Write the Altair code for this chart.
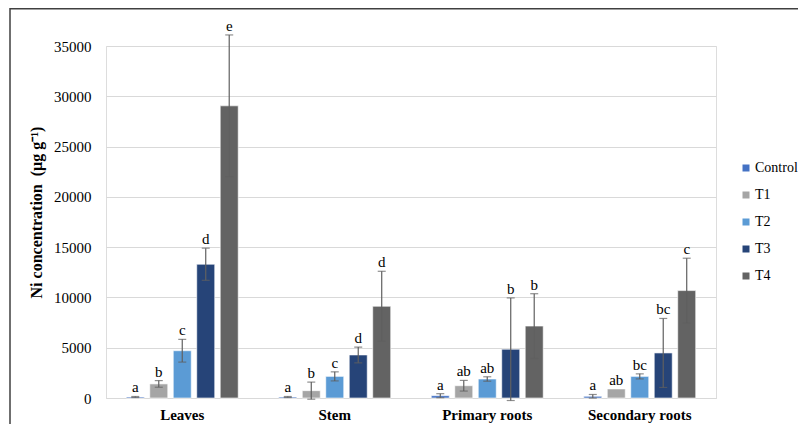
import altair as alt
import pandas as pd

organs = ["Leaves", "Stem", "Primary roots", "Secondary roots"]
treatments = ["Control", "T1", "T2", "T3", "T4"]
colors = ["#4472C4", "#A5A5A5", "#5B9BD5", "#264478", "#636363"]

means = {
    "Leaves": [100, 1400, 4700, 13300, 29050],
    "Stem": [100, 730, 2150, 4280, 9120],
    "Primary roots": [230, 1220, 1890, 4850, 7150],
    "Secondary roots": [170, 900, 2150, 4480, 10680],
}
errors = {
    "Leaves": [50, 330, 1130, 1600, 7050],
    "Stem": [50, 850, 450, 780, 3480],
    "Primary roots": [200, 530, 220, 5100, 3220],
    "Secondary roots": [180, 0, 250, 3430, 3220],
}
letters = {
    "Leaves": ["a", "b", "c", "d", "e"],
    "Stem": ["a", "b", "c", "d", "d"],
    "Primary roots": ["a", "ab", "ab", "b", "b"],
    "Secondary roots": ["a", "ab", "bc", "bc", "c"],
}
y_ticks = [0, 5000, 10000, 15000, 20000, 25000, 30000, 35000]

rows = []
for o in organs:
    for i, t in enumerate(treatments):
        m = means[o][i]
        e = errors[o][i]
        rows.append({"organ": o, "treat": t, "mean": m, "err": e,
                     "lo": m - e, "hi": m + e, "letter": letters[o][i]})
df = pd.DataFrame(rows)

FONT = "Liberation Serif"

x_enc = alt.X("organ:N", sort=organs, title=None,
              scale=alt.Scale(paddingInner=0.23, paddingOuter=0.115),
              axis=alt.Axis(labelAngle=0, labelFont=FONT, labelFontSize=15,
                            labelFontWeight="bold", labelColor="#000000",
                            labelPadding=9, ticks=False, domainColor="#d9d9d9",
                            domainWidth=1.2))
xoff = alt.XOffset("treat:N", sort=treatments,
                   scale=alt.Scale(paddingInner=0.234, paddingOuter=0.117))
y_scale = alt.Scale(domain=[0, 35000], nice=False)

base = alt.Chart(df)

bars = base.mark_bar(stroke="white", strokeWidth=0.6).encode(
    x=x_enc,
    xOffset=xoff,
    y=alt.Y("mean:Q", scale=y_scale,
            title="Ni concentration \u00a0(µg g⁻¹)",
            axis=alt.Axis(values=y_ticks, format="d", labelFont=FONT,
                          labelFontSize=15, labelColor="#000000",
                          labelPadding=15, ticks=False, domain=False,
                          gridColor="#d9d9d9", gridWidth=1.2,
                          titleFont=FONT, titleFontSize=16,
                          titleFontWeight="bold", titleColor="#000000",
                          titleX=-70, titleY=166, titleBaseline="middle")),
    color=alt.Color("treat:N", sort=treatments,
                    scale=alt.Scale(domain=treatments, range=colors),
                    legend=alt.Legend(title=None, orient="none", legendX=633,
                                      legendY=115, symbolType="square",
                                      symbolSize=49, symbolStrokeWidth=0,
                                      labelFont=FONT, labelFontSize=14,
                                      labelColor="#000000", labelOffset=2,
                                      rowPadding=13)),
)

ebase = base.transform_filter("datum.err > 0")

rule = ebase.mark_rule(color="#606060", strokeWidth=1.2).encode(
    x=alt.X("organ:N", sort=organs), xOffset=xoff,
    y=alt.Y("lo:Q", scale=y_scale), y2="hi:Q")

cap_hi = ebase.mark_tick(color="#606060", thickness=1.2, size=8).encode(
    x=alt.X("organ:N", sort=organs), xOffset=xoff,
    y=alt.Y("hi:Q", scale=y_scale))
cap_lo = ebase.mark_tick(color="#606060", thickness=1.2, size=8).encode(
    x=alt.X("organ:N", sort=organs), xOffset=xoff,
    y=alt.Y("lo:Q", scale=y_scale))

labels = base.mark_text(font=FONT, fontSize=15, color="#000000",
                        baseline="alphabetic", dy=-4).encode(
    x=alt.X("organ:N", sort=organs), xOffset=xoff,
    y=alt.Y("hi:Q", scale=y_scale), text="letter:N")

frame = alt.Chart(pd.DataFrame({"k": [0]})).mark_rect(
    fill=None, stroke="#404040", strokeWidth=1.5).encode(
    x=alt.value(-96), x2=alt.value(720), y=alt.value(-37.2), y2=alt.value(420))

chart = alt.layer(bars, rule, cap_hi, cap_lo, labels, frame).properties(
    width=610, height=352,
    autosize=alt.AutoSizeParams(type="none"),
    padding={"left": 98, "top": 38, "right": 82, "bottom": 26},
).configure_view(stroke=None).configure(font=FONT)

chart.save("out.html", embed_options={"renderer": "svg", "actions": False})
